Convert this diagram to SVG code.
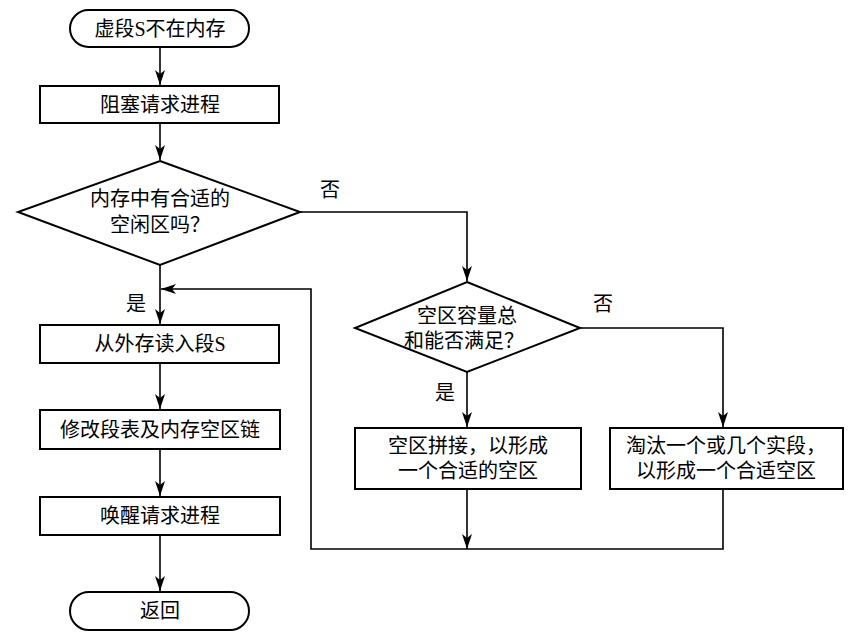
<svg xmlns="http://www.w3.org/2000/svg" width="857" height="639" viewBox="0 0 857 639">
<defs>
<style>
.n{fill:#fff;stroke:#000;stroke-width:2}
.t{font-family:"Liberation Serif","Noto Sans CJK SC",serif;font-size:20px;fill:#000;text-anchor:middle;dominant-baseline:central}
.c{fill:none;stroke:#000;stroke-width:1.6}
</style>
<marker id="a" markerUnits="userSpaceOnUse" markerWidth="16" markerHeight="10" refX="15" refY="5" orient="auto">
<path d="M0,0 L15,5 L0,10 L4,5 z" fill="#000"/>
</marker>
</defs>
<g id="connectors">
<path class="c" d="M160,47 V85" marker-end="url(#a)"/>
<path class="c" d="M160,123 V160" marker-end="url(#a)"/>
<path class="c" d="M300,212 H467 V281" marker-end="url(#a)"/>
<path class="c" d="M580,328 H723 V427" marker-end="url(#a)"/>
<path class="c" d="M467,372 V427" marker-end="url(#a)"/>
<path class="c" d="M160,265 V324" marker-end="url(#a)"/>
<path class="c" d="M467,489 V549" marker-end="url(#a)"/>
<path class="c" d="M723,489 V549 H311 V289 H161" marker-end="url(#a)"/>
<path class="c" d="M160,363 V409" marker-end="url(#a)"/>
<path class="c" d="M160,449 V496" marker-end="url(#a)"/>
<path class="c" d="M160,535 V591" marker-end="url(#a)"/>
<text class="t" x="330" y="190">否</text>
<text class="t" x="603" y="304">否</text>
<text class="t" x="445" y="393">是</text>
<text class="t" x="136" y="304">是</text>
</g>
<g id="start"><rect class="n" x="70" y="10" width="179" height="37" rx="18.5"/><text class="t" x="160" y="29">虚段S不在内存</text></g>
<g id="block"><rect class="n" x="40" y="86" width="239" height="37"/><text class="t" x="160" y="105">阻塞请求进程</text></g>
<g id="dec1"><polygon class="n" points="160,161 300,212 160,265 18,212"/><text class="t" x="160" y="199">内存中有合适的</text><text class="t" x="160" y="225">空闲区吗？</text></g>
<g id="dec2"><polygon class="n" points="467,282 580,328 467,372 355,328"/><text class="t" x="467" y="316">空区容量总</text><text class="t" x="464" y="341">和能否满足？</text></g>
<g id="compact"><rect class="n" x="355" y="428" width="226" height="61"/><text class="t" x="468" y="446">空区拼接，以形成</text><text class="t" x="468" y="471">一个合适的空区</text></g>
<g id="evict"><rect class="n" x="610" y="428" width="233" height="61"/><text class="t" x="726" y="446">淘汰一个或几个实段，</text><text class="t" x="726" y="471">以形成一个合适空区</text></g>
<g id="read"><rect class="n" x="40" y="325" width="239" height="38"/><text class="t" x="160" y="344">从外存读入段S</text></g>
<g id="modify"><rect class="n" x="40" y="410" width="240" height="39"/><text class="t" x="160" y="430">修改段表及内存空区链</text></g>
<g id="wake"><rect class="n" x="40" y="497" width="240" height="38"/><text class="t" x="160" y="516">唤醒请求进程</text></g>
<g id="end"><rect class="n" x="70" y="592" width="179" height="38" rx="19"/><text class="t" x="160" y="611">返回</text></g>
</svg>
